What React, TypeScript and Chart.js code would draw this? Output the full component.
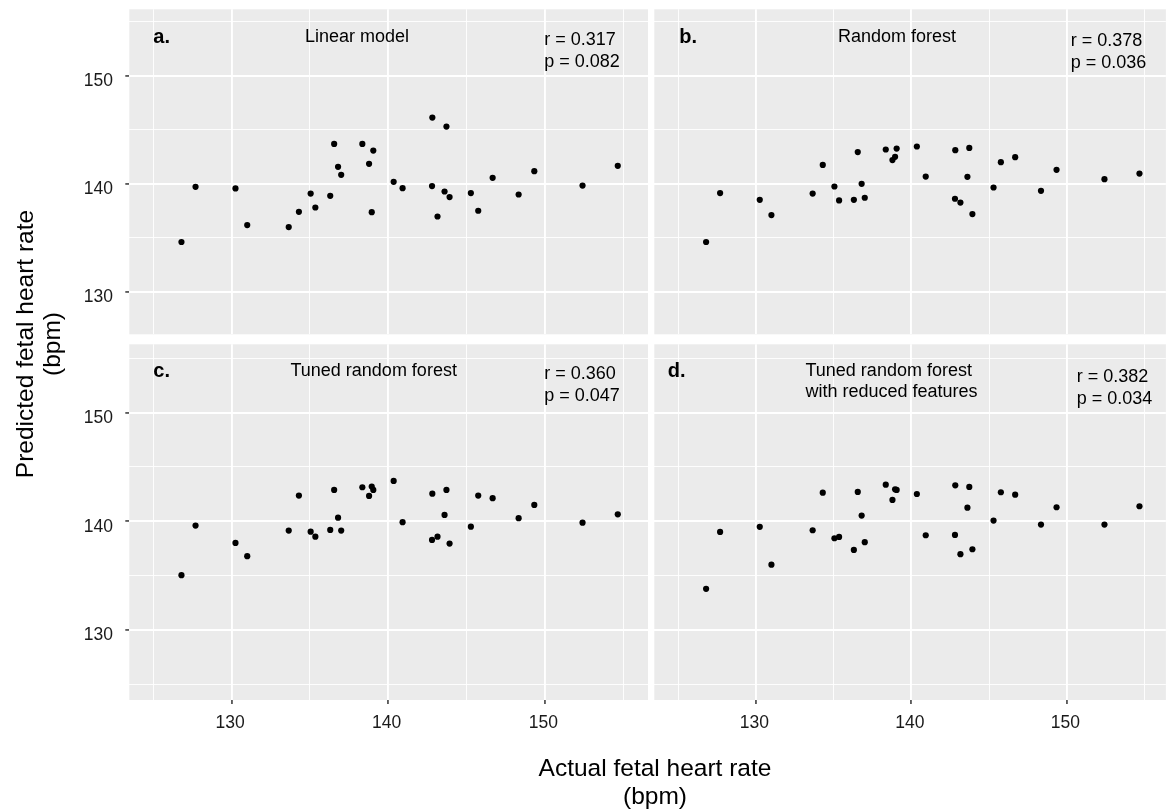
import React, { useEffect, useRef } from "react";
import { Chart, registerables } from "chart.js";

Chart.register(...registerables);

// Actual fetal heart rate (bpm) for each recording, shared by all four panels
const actualRate = [
  126.8, 127.7, 130.25, 131.0, 133.65, 134.3, 135.05, 135.35, 136.3, 136.55,
  136.8, 137.0, 138.35, 139.05, 138.78, 138.95, 140.35, 140.92, 142.82, 143.72,
  142.8, 143.15, 143.6, 143.92, 145.28, 145.75, 146.67, 148.33, 149.33, 152.41,
  154.66,
];

// Predicted fetal heart rate (bpm) from each model
const predLinear = [
  134.62, 139.72, 139.57, 136.19, 136.0, 137.41, 139.1, 137.81, 138.89, 143.69,
  141.57, 140.83, 143.69, 143.07, 141.85, 137.38, 140.18, 139.6, 146.12, 145.29,
  139.79, 136.98, 139.29, 138.77, 139.14, 137.51, 140.55, 139.01, 141.17, 139.84,
  141.66,
];
const predForest = [
  134.62, 139.14, 138.52, 137.11, 139.1, 141.75, 139.75, 138.46, 138.52, 142.93,
  140.0, 138.71, 143.17, 143.26, 142.19, 142.49, 143.45, 140.67, 143.11, 143.32,
  138.62, 138.27, 140.65, 137.2, 139.66, 142.0, 142.46, 139.35, 141.29, 140.43,
  140.95,
];
const predTuned = [
  135.03, 139.6, 138.0, 136.78, 139.14, 142.36, 139.04, 138.58, 139.2, 142.88,
  140.33, 139.14, 143.13, 142.88, 142.33, 143.19, 143.71, 139.91, 142.54, 142.88,
  138.28, 138.58, 140.58, 137.94, 139.5, 142.36, 142.12, 140.28, 141.5, 139.87,
  140.64,
];
const predReduced = [
  133.77, 139.01, 139.48, 136.0, 139.17, 142.63, 138.43, 138.55, 137.36, 142.7,
  140.52, 138.07, 143.37, 142.88, 141.96, 142.94, 142.51, 138.71, 143.31, 143.16,
  138.74, 136.96, 141.25, 137.42, 140.06, 142.67, 142.45, 139.69, 141.29, 139.69,
  141.38,
];

const majorTicks = [130, 140, 150];
const panelLetters = ["a.", "b.", "c.", "d."];
const panelTitles = [
  ["Linear model"],
  ["Random forest"],
  ["Tuned random forest"],
  ["Tuned random forest", "with reduced features"],
];
const rValues = ["0.317", "0.378", "0.360", "0.382"];
const pValues = ["0.082", "0.036", "0.047", "0.034"];

const seriesByPanel = [predLinear, predForest, predTuned, predReduced];

const W = 1169;
const H = 812;
const FONT = '"Liberation Sans", Arial, Helvetica, sans-serif';
const AXIS_LABEL_SPACE = 60;

type Panel = {
  left: number;
  top: number;
  right: number;
  bottom: number;
  xMin: number;
  xMax: number;
  yMin: number;
  yMax: number;
  showX: boolean;
  showY: boolean;
  letter: { x: number; base: number };
  title: { x: number; base: number; align: "center" | "left" };
  stats: { x: number; base: number };
};

const panels: Panel[] = [
  {
    left: 129.3, top: 9.3, right: 648, bottom: 334.3,
    xMin: 123.47, xMax: 156.59, yMin: 126.09, yMax: 156.13,
    showX: false, showY: true,
    letter: { x: 153.3, base: 42.7 },
    title: { x: 357, base: 42.7, align: "center" },
    stats: { x: 544.3, base: 45.7 },
  },
  {
    left: 654.3, top: 9.3, right: 1169, bottom: 334.3,
    xMin: 123.47, xMax: 156.36, yMin: 126.09, yMax: 156.13,
    showX: false, showY: false,
    letter: { x: 679.3, base: 42.7 },
    title: { x: 897, base: 42.7, align: "center" },
    stats: { x: 1070.7, base: 46 },
  },
  {
    left: 129.3, top: 344.3, right: 648, bottom: 700,
    xMin: 123.47, xMax: 156.59, yMin: 123.53, yMax: 156.3,
    showX: true, showY: true,
    letter: { x: 153.3, base: 376.7 },
    title: { x: 373.7, base: 376.7, align: "center" },
    stats: { x: 544.3, base: 379.3 },
  },
  {
    left: 654.3, top: 344.3, right: 1169, bottom: 700,
    xMin: 123.47, xMax: 156.36, yMin: 123.53, yMax: 156.3,
    showX: true, showY: false,
    letter: { x: 667.7, base: 376.7 },
    title: { x: 805.5, base: 376.7, align: "left" },
    stats: { x: 1076.7, base: 382.7 },
  },
];

const isMajor = (v: number | undefined) =>
  v !== undefined && Math.abs(v % 10) < 1e-6;

// grey panel background underneath the grid
const panelBackground = {
  id: "panelBackground",
  beforeDraw(chart: any) {
    const { ctx, chartArea: a } = chart;
    ctx.save();
    ctx.fillStyle = "#EBEBEB";
    ctx.fillRect(a.left, a.top, a.right - a.left, a.bottom - a.top);
    ctx.restore();
  },
};

function axisOptions(
  axis: "x" | "y",
  min: number,
  max: number,
  showLabels: boolean
) {
  const size = showLabels ? AXIS_LABEL_SPACE : 0;
  return {
    type: "linear",
    position: axis === "x" ? "bottom" : "left",
    min,
    max,
    border: { display: false },
    grid: {
      color: "#FFFFFF",
      lineWidth: (ctx: any) => (isMajor(ctx.tick?.value) ? 1.9 : 0.9),
      drawTicks: showLabels,
      tickLength: 4,
      tickWidth: 1.5,
      tickColor: (ctx: any) =>
        isMajor(ctx.tick?.value) ? "#333333" : "rgba(0,0,0,0)",
    },
    ticks: {
      display: showLabels,
      stepSize: 5,
      includeBounds: false,
      autoSkip: false,
      maxRotation: 0,
      minRotation: 0,
      padding: axis === "x" ? 9 : 12.3,
      labelOffset: axis === "y" ? 5.5 : -1.5,
      color: "#1A1A1A",
      font: { family: FONT, size: 17.5 },
      callback: (v: number) => (majorTicks.includes(v) ? String(v) : ""),
    },
    afterFit: (scale: any) => {
      if (axis === "x") scale.height = size;
      else scale.width = size;
      scale.paddingTop = 0;
      scale.paddingBottom = 0;
      scale.paddingLeft = 0;
      scale.paddingRight = 0;
    },
  };
}

function textTop(baseline: number, size: number, lineHeight: number) {
  return baseline - (lineHeight - 1.117 * size) / 2 - 0.905 * size;
}

function Label(props: {
  x: number;
  base: number;
  size: number;
  lines: string[];
  lineHeight: number;
  align?: "left" | "center";
  bold?: boolean;
}) {
  const { x, base, size, lines, lineHeight, align = "left", bold } = props;
  const boxWidth = 500;
  return (
    <div
      style={{
        position: "absolute",
        left: align === "center" ? x - boxWidth / 2 : x,
        top: textTop(base, size, lineHeight),
        width: align === "center" ? boxWidth : undefined,
        textAlign: align,
        fontFamily: FONT,
        fontSize: size,
        fontWeight: bold ? 700 : 400,
        lineHeight: `${lineHeight}px`,
        color: "#000000",
        whiteSpace: "nowrap",
      }}
    >
      {lines.map((l, i) => (
        <div key={i}>{l}</div>
      ))}
    </div>
  );
}

export default function App() {
  const refs = [
    useRef<HTMLCanvasElement>(null),
    useRef<HTMLCanvasElement>(null),
    useRef<HTMLCanvasElement>(null),
    useRef<HTMLCanvasElement>(null),
  ];

  useEffect(() => {
    const charts = panels.map((p, i) => {
      const canvas = refs[i].current as HTMLCanvasElement;
      const ySpace = p.showY ? AXIS_LABEL_SPACE : 0;
      const xSpace = p.showX ? AXIS_LABEL_SPACE : 0;
      return new Chart(canvas, {
        type: "scatter",
        data: {
          datasets: [
            {
              data: actualRate.map((x, k) => ({ x, y: seriesByPanel[i][k] })),
              pointRadius: 3.1,
              pointHoverRadius: 3.1,
              pointBackgroundColor: "#000000",
              pointBorderWidth: 0,
              borderWidth: 0,
            },
          ],
        },
        options: {
          animation: false,
          responsive: false,
          devicePixelRatio: 1,
          events: [],
          layout: {
            padding: {
              left: p.left - ySpace,
              top: p.top,
              right: W - p.right,
              bottom: H - p.bottom - xSpace,
            },
          },
          plugins: {
            legend: { display: false },
            tooltip: { enabled: false },
          },
          scales: {
            x: axisOptions("x", p.xMin, p.xMax, p.showX),
            y: axisOptions("y", p.yMin, p.yMax, p.showY),
          },
        } as any,
        plugins: [panelBackground],
      });
    });
    return () => charts.forEach((c) => c.destroy());
  }, []);

  return (
    <div
      style={{
        position: "absolute",
        left: 0,
        top: 0,
        width: W,
        height: H,
        background: "#FFFFFF",
        overflow: "hidden",
      }}
    >
      {refs.map((r, i) => (
        <canvas
          key={i}
          ref={r}
          width={W}
          height={H}
          style={{ position: "absolute", left: 0, top: 0 }}
        />
      ))}

      {panels.map((p, i) => (
        <React.Fragment key={i}>
          <Label
            x={p.letter.x}
            base={p.letter.base}
            size={20}
            lineHeight={22}
            bold
            lines={[panelLetters[i]]}
          />
          <Label
            x={p.title.x}
            base={p.title.base}
            size={18}
            lineHeight={21.6}
            align={p.title.align}
            lines={panelTitles[i]}
          />
          <Label
            x={p.stats.x}
            base={p.stats.base}
            size={18}
            lineHeight={22}
            lines={[`r = ${rValues[i]}`, `p = ${pValues[i]}`]}
          />
        </React.Fragment>
      ))}

      {/* shared x-axis title */}
      <Label
        x={655}
        base={776}
        size={24.5}
        lineHeight={28}
        align="center"
        lines={["Actual fetal heart rate", "(bpm)"]}
      />

      {/* shared y-axis title, rotated */}
      <div
        style={{
          position: "absolute",
          left: 38 - 200,
          top: 344 - 27,
          width: 400,
          height: 54,
          transform: "rotate(-90deg)",
          transformOrigin: "50% 50%",
          textAlign: "center",
          fontFamily: FONT,
          fontSize: 24.5,
          lineHeight: "27px",
          color: "#000000",
          whiteSpace: "nowrap",
        }}
      >
        <div>Predicted fetal heart rate</div>
        <div>(bpm)</div>
      </div>
    </div>
  );
}
